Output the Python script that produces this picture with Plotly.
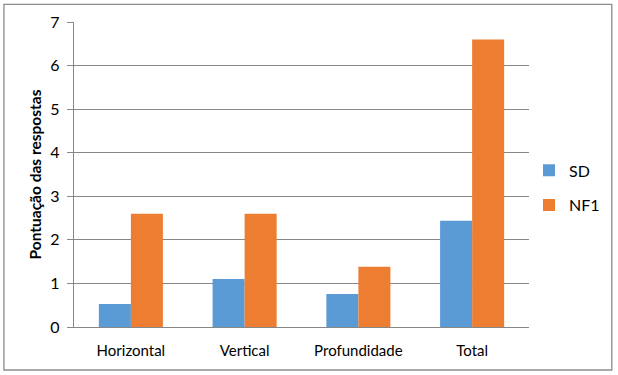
import plotly.graph_objects as go

categories = ["Horizontal", "Vertical", "Profundidade", "Total"]
sd_values = [0.53, 1.1, 0.76, 2.44]
nf1_values = [2.6, 2.6, 1.38, 6.6]
y_ticks = [0, 1, 2, 3, 4, 5, 6, 7]

FONT = "Lato"

fig = go.Figure()
fig.add_trace(go.Bar(name="SD", x=categories, y=sd_values, marker_color="#5B9BD5",
                     marker_line_width=0, legendgroup="a"))
fig.add_trace(go.Bar(name="NF1", x=categories, y=nf1_values, marker_color="#ED7D31",
                     marker_line_width=0, legendgroup="b"))

fig.update_layout(
    width=618, height=375,
    margin=dict(l=74, r=89, t=22, b=48, autoexpand=False),
    paper_bgcolor="white", plot_bgcolor="white",
    barmode="group", bargap=0.437, bargroupgap=0,
    font=dict(family=FONT, size=15, color="black"),
    showlegend=True,
    legend=dict(x=1.0, y=0.456, xanchor="left", yanchor="middle",
                traceorder="grouped", tracegroupgap=11,
                font=dict(size=16), itemwidth=30),
    xaxis=dict(showline=True, linecolor="#878787", linewidth=1.3,
               ticks="", showgrid=False, ticklabelstandoff=10,
               tickfont=dict(size=15), automargin=False),
    yaxis=dict(range=[0, 7], tickvals=y_ticks, showgrid=True,
               gridcolor="#878787", gridwidth=1.3,
               showline=True, linecolor="#878787", linewidth=1.3,
               ticks="outside", ticklen=6, tickcolor="#878787", tickwidth=1.3,
               ticklabelstandoff=4, zeroline=False, automargin=False,
               tickfont=dict(size=16),
               title=dict(text="<b>Pontuação das respostas</b>", standoff=4,
                          font=dict(size=15.5))),
    shapes=[dict(type="rect", xref="paper", yref="paper",
                 x0=-0.154, x1=1.182, y0=-0.141, y1=1.058,
                 line=dict(color="#8c8c8c", width=1.3), layer="below")],
)

fig.write_html("out.html", config={"displayModeBar": False},
               post_script="document.body.style.margin='0';document.body.style.padding='0';")
